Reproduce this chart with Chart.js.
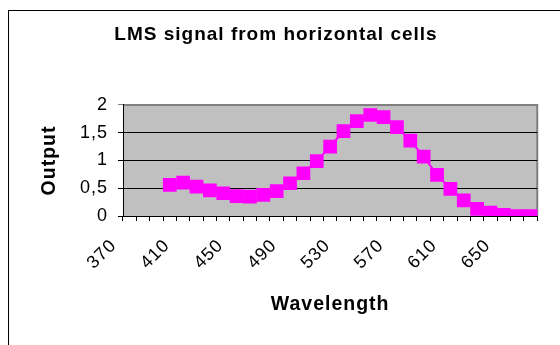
<!DOCTYPE html>
<html>
<head>
<meta charset="utf-8">
<script src="https://cdn.jsdelivr.net/npm/chart.js@4/dist/chart.umd.min.js"></script>
<style>
  html, body { margin: 0; padding: 0; background: #fff; }
</style>
</head>
<body>
<canvas id="lmsChart" width="560" height="345"></canvas>
<script>
// wavelength categories (nm), one every 10
const wavelengths = ['370', '380', '390', '400', '410', '420', '430', '440', '450', '460',
                     '470', '480', '490', '500', '510', '520', '530', '540', '550', '560',
                     '570', '580', '590', '600', '610', '620', '630', '640', '650', '660', '670'];
// LMS output, nothing measured below 400 nm
const lmsOutput = [null, null, null, 0.56, 0.60, 0.53, 0.46, 0.41, 0.36, 0.35,
                   0.38, 0.45, 0.59, 0.77, 0.99, 1.25, 1.53, 1.71, 1.82, 1.78,
                   1.60, 1.36, 1.07, 0.74, 0.49, 0.28, 0.13, 0.06, 0.02, 0.0, 0.0];
const yTicks = [0, 0.5, 1, 1.5, 2];
const labelEvery = 4;

const fontFamily = "'Liberation Sans', Arial, sans-serif";

// white page, outer frame and the grey plot area like the excel chart
const chartFrame = {
    id: 'chartFrame',
    beforeDraw(chart) {
        const ctx = chart.ctx;
        const a = chart.chartArea;
        ctx.save();
        ctx.fillStyle = '#fff';
        ctx.fillRect(0, 0, chart.width, chart.height);
        ctx.strokeStyle = '#000';
        ctx.lineWidth = 1;
        ctx.strokeRect(8.5, 10.5, chart.width + 20, chart.height + 20);
        ctx.fillStyle = '#c0c0c0';
        ctx.fillRect(a.left, a.top, a.right - a.left, a.bottom - a.top);
        ctx.strokeStyle = '#808080';
        ctx.lineWidth = 2;
        ctx.beginPath();
        ctx.moveTo(a.left, a.top);
        ctx.lineTo(a.right, a.top);
        ctx.lineTo(a.right, a.bottom);
        ctx.stroke();
        ctx.restore();
        ctx.letterSpacing = '1px';
    }
};

const ctx = document.getElementById('lmsChart').getContext('2d');
new Chart(ctx, {
    type: 'line',
    data: {
        labels: wavelengths,
        datasets: [{
            label: 'LMS',
            data: lmsOutput,
            borderColor: '#ff00ff',
            borderWidth: 2,
            pointStyle: 'rect',
            pointRadius: 9.7,
            pointBackgroundColor: '#ff00ff',
            pointBorderWidth: 0,
            tension: 0
        }]
    },
    options: {
        responsive: false,
        animation: false,
        events: [],
        layout: { padding: { left: 0, right: 8, top: 0, bottom: 0 } },
        plugins: {
            legend: { display: false },
            tooltip: { enabled: false },
            title: {
                display: true,
                text: 'LMS signal from horizontal cells',
                color: '#000',
                font: { family: fontFamily, size: 19, weight: 'bold', lineHeight: 1.2 },
                padding: { top: 23.4, bottom: 58.8 }
            }
        },
        scales: {
            x: {
                type: 'category',
                offset: true,
                grid: {
                    offset: true,
                    drawOnChartArea: false,
                    drawTicks: true,
                    tickLength: 5,
                    color: '#000'
                },
                border: { color: '#000', width: 1 },
                ticks: {
                    autoSkip: false,
                    maxRotation: 45,
                    minRotation: 45,
                    color: '#000',
                    padding: 14,
                    labelOffset: -16,
                    font: { family: fontFamily, size: 18 },
                    callback: (v, i) => i % labelEvery === 0 ? wavelengths[i] : ''
                },
                title: {
                    display: true,
                    text: 'Wavelength',
                    color: '#000',
                    font: { family: fontFamily, size: 19.5, weight: 'bold', lineHeight: 1.2 },
                    padding: { top: 0, bottom: 28.3 }
                },
                afterFit: s => { s.height = 129; }
            },
            y: {
                min: yTicks[0],
                max: yTicks[yTicks.length - 1],
                ticks: {
                    stepSize: yTicks[1] - yTicks[0],
                    color: '#000',
                    padding: 10,
                    font: { family: fontFamily, size: 18 },
                    callback: v => String(v).replace('.', ',')
                },
                grid: {
                    drawTicks: true,
                    tickLength: 5,
                    color: c => (c.tick && c.tick.value === yTicks[yTicks.length - 1]) ? '#808080' : '#000'
                },
                border: { color: '#000', width: 1 },
                title: {
                    display: true,
                    text: 'Output',
                    color: '#000',
                    font: { family: fontFamily, size: 19.5, weight: 'bold', lineHeight: 1.2 },
                    padding: { top: 37.8, bottom: 0 }
                },
                afterFit: s => { s.width = 123; }
            }
        }
    },
    plugins: [chartFrame]
});
</script>
</body>
</html>
